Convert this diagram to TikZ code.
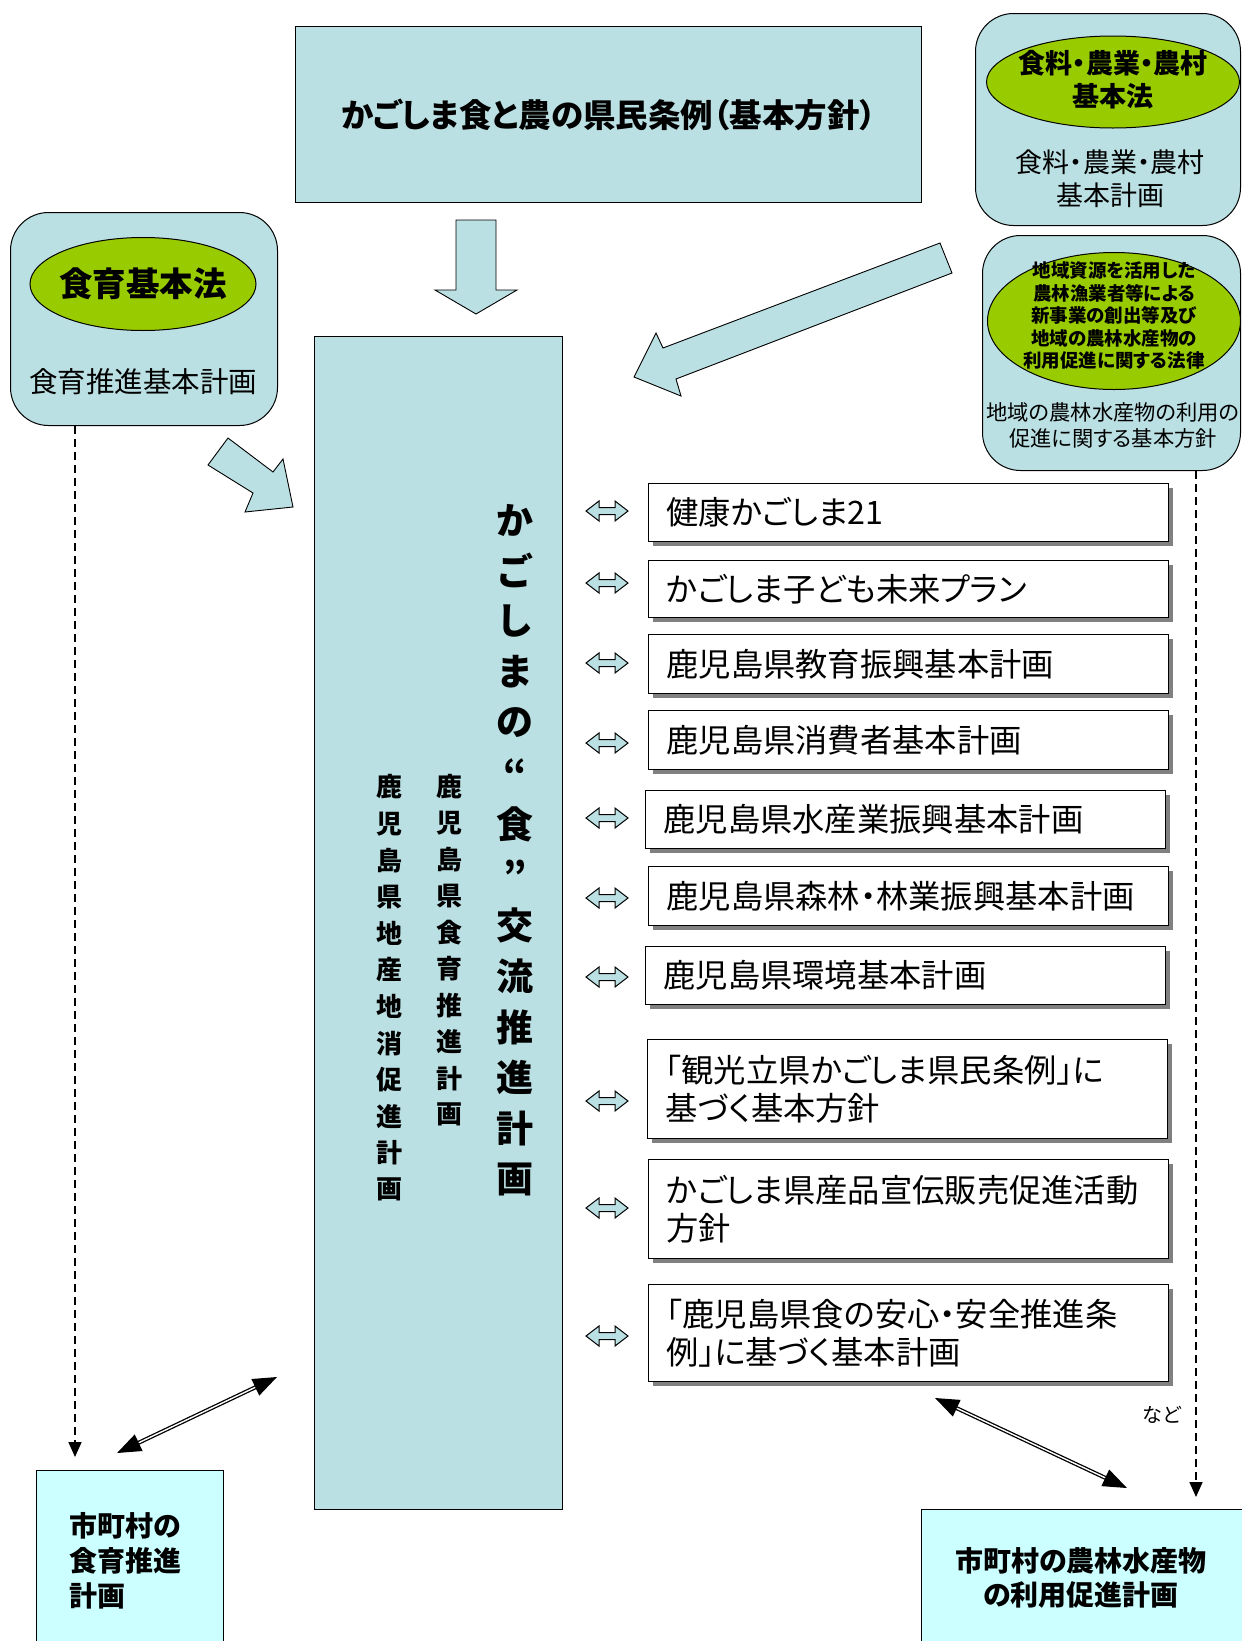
\documentclass[tikz,border=0pt]{standalone}
\usepackage{fontspec}
\setmainfont{Noto Sans CJK JP}[RawFeature=+palt]
\newfontfamily\jpfix{Noto Sans CJK JP}
\usetikzlibrary{arrows.meta,shapes.geometric,shadows}
\definecolor{boxblue}{HTML}{BBE0E3}
\definecolor{lawgreen}{HTML}{99CC00}
\definecolor{cityblue}{HTML}{CCFFFF}
\begin{document}
\begin{tikzpicture}[x=1pt,y=-1pt,
  planbox/.style={draw, fill=boxblue, line width=1pt, anchor=north west, inner sep=0pt},
  roundbox/.style={planbox, rounded corners=38pt},
  citybox/.style={draw, fill=cityblue, line width=1pt, anchor=north west, inner sep=0pt},
  law/.style={ellipse, draw, fill=lawgreen, line width=1pt, inner sep=0pt},
  relbox/.style={draw, fill=white, line width=0.8pt, anchor=north west, inner xsep=18pt, inner ysep=0pt,
    text width=484pt, align=left, font=\fontsize{32.3}{38}\selectfont,
    drop shadow={shadow xshift=4.5pt, shadow yshift=-4.5pt, fill=black!50, opacity=1}},
  blockarrow/.style={draw, fill=boxblue, line width=0.9pt, line join=miter},
  dashlink/.style={draw, line width=1.7pt, dash pattern=on 8pt off 5pt, -{Triangle[length=15pt,width=13pt]}},
  duallink/.style={draw, line width=1.3pt, double=white, double distance=1.4pt,
    {Triangle[length=24pt,width=18pt]}-{Triangle[length=24pt,width=18pt]}},
  vmain/.style={font=\jpfix\fontsize{37}{37}\selectfont\bfseries, inner sep=0pt},
  vsub/.style={font=\jpfix\fontsize{26}{26}\selectfont\bfseries, inner sep=0pt},
  txt/.style={inner sep=0pt, align=center},
  dblock/.pic={\draw[blockarrow, line width=1pt] (-21,0) -- (-8,-10) -- (-8,-3.5) -- (8,-3.5) -- (8,-10) -- (21,0)
     -- (8,10) -- (8,3.5) -- (-8,3.5) -- (-8,10) -- cycle;}
]
\useasboundingbox (0,0) rectangle (1242,1641);
\fill[white] (0,0) rectangle (1242,1641);

% top ordinance box
\node[planbox, minimum width=626pt, minimum height=176pt, font=\fontsize{32.5}{36}\selectfont\bfseries]
  (jorei) at (295,26) {かごしま食と農の県民条例（基本方針）};

% left rounded box (shokuiku)
\node[roundbox, minimum width=267pt, minimum height=213pt] (kb) at (10,212) {};
\node[law, minimum width=226pt, minimum height=93pt] (kbl) at (143,284) {};
\node[txt, font=\fontsize{33.5}{36}\selectfont\bfseries] (kblt) at (kbl.center) {食育基本法};
\node[txt, font=\fontsize{28.5}{32}\selectfont] (kbp) at (143,382) {食育推進基本計画};

% top-right rounded box
\node[roundbox, minimum width=265pt, minimum height=212pt] (rb1) at (975,13) {};
\node[law, minimum width=253pt, minimum height=92pt] (rb1l) at (1113,82) {};
\node[txt, font=\fontsize{27}{33}\selectfont\bfseries] (rb1lt) at (1113,80) {食料・農業・農村\\基本法};
\node[txt, font=\fontsize{27}{33}\selectfont] (rb1p) at (1110,179) {食料・農業・農村\\基本計画};

% second right rounded box
\node[roundbox, minimum width=258pt, minimum height=235pt] (rb2) at (982,235) {};
\node[law, minimum width=253pt, minimum height=137pt] (rb2l) at (1114,321) {};
\node[txt, font=\fontsize{18.5}{22.5}\selectfont\bfseries] (rb2lt) at (1114,316)
  {地域資源を活用した\\農林漁業者等による\\新事業の創出等及び\\地域の農林水産物の\\利用促進に関する法律};
\node[txt, font=\fontsize{21.3}{26}\selectfont] (rb2p) at (1113,425) {地域の農林水産物の利用の\\促進に関する基本方針};

% main tall box
\node[planbox, minimum width=248pt, minimum height=1173pt] (main) at (314,336) {};
\foreach \c [count=\i from 0] in {か,ご,し,ま,の,“,食,”,交,流,推,進,計,画}
  \node[vmain] (m\i) at (515,520+50.7*\i) {\c};
\foreach \c [count=\i from 0] in {鹿,児,島,県,食,育,推,進,計,画}
  \node[vsub] (s\i) at (449,787+36.4*\i) {\c};
\foreach \c [count=\i from 0] in {鹿,児,島,県,地,産,地,消,促,進,計,画}
  \node[vsub] (c\i) at (389,787+36.6*\i) {\c};

% block arrows
\draw[blockarrow] (456,220) -- (496,220) -- (496,290) -- (517,290) -- (476,314) -- (435,290) -- (456,290) -- cycle;
\draw[blockarrow] (940,243) -- (952,273) -- (676,379) -- (681,396) -- (634,377) -- (656,333) -- (663,348) -- cycle;
\draw[blockarrow] (228,438) -- (273,472) -- (283,459) -- (293,507) -- (245,512) -- (253,493) -- (208,465) -- cycle;

% related plans
\node[relbox, minimum height=58pt] (p1) at (648,483) {健康かごしま21};
\node[relbox, minimum height=57pt] (p2) at (648,560) {かごしま子ども未来プラン};
\node[relbox, minimum height=59pt] (p3) at (648,634) {鹿児島県教育振興基本計画};
\node[relbox, minimum height=59pt] (p4) at (648,710) {鹿児島県消費者基本計画};
\node[relbox, minimum height=58pt] (p5) at (645,790) {鹿児島県水産業振興基本計画};
\node[relbox, minimum height=59pt] (p6) at (648,866) {鹿児島県森林・林業振興基本計画};
\node[relbox, minimum height=58pt] (p7) at (645,946) {鹿児島県環境基本計画};
\node[relbox, minimum height=99pt] (p8) at (647,1039) {「観光立県かごしま県民条例」に\\基づく基本方針};
\node[relbox, minimum height=99pt] (p9) at (648,1159) {かごしま県産品宣伝販売促進活動\\方針};
\node[relbox, minimum height=97pt] (p10) at (648,1284) {「鹿児島県食の安心・安全推進条\\例」に基づく基本計画};

\foreach \yy in {511,583,663,743,818,898,977,1101,1208,1336}
  \pic at (607,\yy) {dblock};

\node[txt, font=\fontsize{20}{24}\selectfont] (nado) at (1162,1415) {など};

% municipal boxes
\node[citybox, minimum width=187pt, minimum height=190pt] (city1) at (36,1470) {};
\node[txt, anchor=west, align=left, font=\fontsize{28}{35}\selectfont\bfseries] (city1t) at (69,1561)
  {市町村の\\食育推進\\計画};
\node[citybox, minimum width=330pt, minimum height=150pt] (city2) at (921,1509) {};
\node[txt, font=\fontsize{28}{34}\selectfont\bfseries] (city2t) at (1081,1578)
  {市町村の農林水産物\\の利用促進計画};

% connectors
\coordinate (dl) at (75,1457);
\coordinate (dr) at (1196,1497);
\draw[dashlink] (kb.south -| dl) -- (dl);
\draw[dashlink] (rb2.south -| dr) -- (dr);
\coordinate (la) at (117,1453);
\coordinate (lb) at (277,1377);
\coordinate (ra) at (935,1398);
\coordinate (rbb) at (1127,1488);
\draw[duallink] (la) -- (lb);
\draw[duallink] (ra) -- (rbb);
\end{tikzpicture}
\end{document}
